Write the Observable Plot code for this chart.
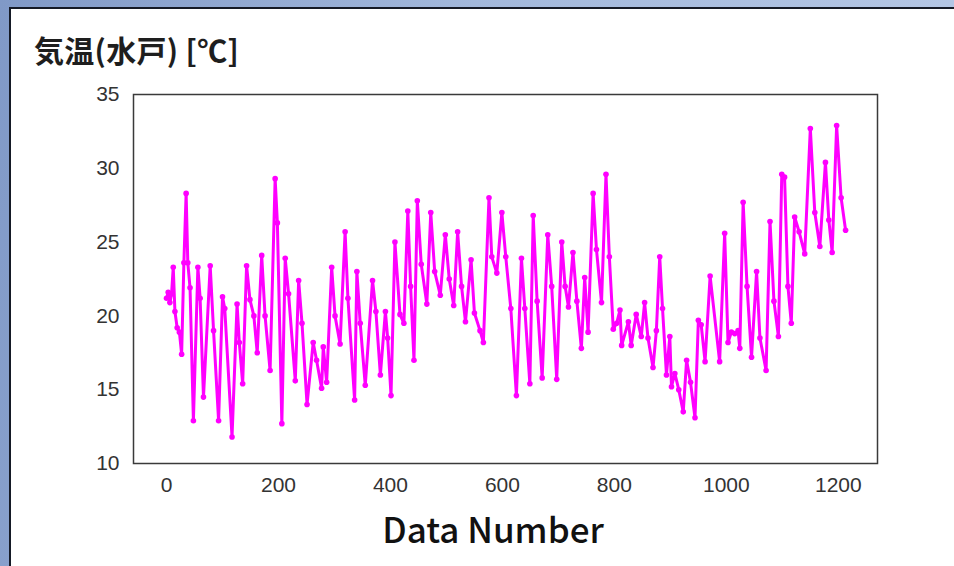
<!DOCTYPE html>
<html>
<head>
<meta charset="utf-8">
<script src="https://cdn.jsdelivr.net/npm/d3@7"></script>
<script src="https://cdn.jsdelivr.net/npm/@observablehq/plot@0.6"></script>
<style>
  html, body { margin: 0; padding: 0; width: 954px; height: 566px; overflow: hidden; }
  body {
    position: relative;
    background: linear-gradient(100deg, #8099c7 0%, #a2b8dc 45%, #b7c9e7 100%);
    font-family: "Noto Sans CJK JP", "Noto Sans", sans-serif;
  }
  #panel {
    position: absolute; left: 9px; top: 7px; right: 0; bottom: 0;
    background: #fff;
    border-left: 2px solid #151a26; border-top: 2px solid #151a26;
  }
  #title {
    position: absolute; left: 34px; top: 31px;
    font-size: 30px; font-weight: 700; color: #1e1e1e; line-height: 1.2;
    white-space: nowrap; letter-spacing: 0.3px;
  }
  #xlabel {
    position: absolute; left: 293px; width: 400px; top: 507px;
    text-align: center; font-size: 35px; font-weight: 500; color: #111;
    line-height: 1.2;
  }
  #chart { position: absolute; left: 0; top: 0; }
</style>
</head>
<body>
<div id="panel"></div>
<div id="chart"></div>
<div id="title">気温(水戸) [℃]</div>
<div id="xlabel">Data Number</div>
<script>
// Hourly air temperature at Mito: sample number and temperature (°C)
const dataNumber = [
  0, 3, 6, 9, 12, 15, 19, 23, 27, 31, 35, 38, 42, 48, 56, 60, 66, 78, 84, 93,
  100, 104, 117, 126, 130, 136, 143, 149, 156, 162, 170, 176, 185, 194, 198, 206, 212, 218, 230, 236,
  242, 251, 262, 268, 277, 280, 286, 295, 301, 310, 319, 324, 336, 340, 346, 355, 368, 374, 382, 391,
  395, 401, 408, 417, 424, 431, 436, 442, 448, 455, 465, 472, 479, 489, 498, 505, 513, 520, 527, 534,
  544, 550, 560, 566, 576, 581, 590, 599, 606, 615, 625, 634, 640, 649, 655, 662, 671, 681, 688, 697,
  706, 712, 718, 726, 733, 741, 747, 753, 762, 768, 777, 785, 791, 798, 804, 810, 813, 825, 830, 839,
  848, 854, 860, 869, 875, 881, 886, 893, 899, 902, 908, 915, 923, 929, 936, 944, 950, 955, 962, 971,
  988, 997, 1003, 1009, 1015, 1021, 1024, 1030, 1037, 1045, 1054, 1060, 1071, 1078, 1085, 1093, 1099, 1104, 1110, 1116,
  1122, 1130, 1140, 1150, 1158, 1167, 1177, 1183, 1189, 1197, 1205, 1213
];
const temperature = [
  21.2, 21.6, 20.9, 21.5, 23.3, 20.3, 19.2, 18.9, 17.4, 23.6, 28.3, 23.6, 21.9, 12.9, 23.3, 21.2, 14.5, 23.4, 19.0, 12.9,
  21.3, 20.5, 11.8, 20.8, 18.2, 15.4, 23.4, 21.1, 20.0, 17.5, 24.1, 20.0, 16.3, 29.3, 26.3, 12.7, 23.9, 21.5, 15.6, 22.4,
  19.5, 14.0, 18.2, 17.0, 15.1, 17.9, 15.5, 23.3, 20.0, 18.1, 25.7, 21.2, 14.3, 23.0, 19.5, 15.3, 22.4, 20.3, 16.0, 20.3,
  18.5, 14.6, 25.0, 20.1, 19.5, 27.1, 22.0, 17.0, 27.8, 23.5, 20.8, 27.0, 23.0, 21.4, 25.5, 22.5, 20.7, 25.7, 22.0, 19.6,
  23.8, 20.2, 19.0, 18.2, 28.0, 24.0, 22.9, 27.0, 24.0, 20.5, 14.6, 23.9, 20.5, 15.4, 26.8, 21.0, 15.8, 25.5, 22.0, 15.7,
  25.0, 22.0, 20.6, 24.3, 21.0, 17.8, 22.6, 18.9, 28.3, 24.5, 20.9, 29.6, 24.0, 19.1, 19.5, 20.4, 18.0, 19.6, 18.0, 20.1,
  18.6, 20.9, 18.5, 16.5, 19.0, 24.0, 20.5, 16.0, 18.6, 15.2, 16.1, 15.0, 13.5, 17.0, 15.5, 13.1, 19.7, 19.4, 16.9, 22.7,
  16.9, 25.6, 18.2, 18.9, 18.8, 19.0, 17.8, 27.7, 22.0, 17.2, 23.0, 18.5, 16.3, 26.4, 21.0, 18.6, 29.6, 29.4, 22.0, 19.5,
  26.7, 25.7, 24.2, 32.7, 27.0, 24.7, 30.4, 26.5, 24.3, 32.9, 28.0, 25.8
];
const yTicks = [10, 15, 20, 25, 30, 35];
const xTicks = [0, 200, 400, 600, 800, 1000, 1200];

const rows = dataNumber.map((n, i) => ({n, t: temperature[i]}));

const chart = Plot.plot({
  width: 954,
  height: 566,
  marginLeft: 133,
  marginRight: 77,
  marginTop: 94,
  marginBottom: 103,
  style: {background: "transparent", fontFamily: "'Liberation Sans', Arial, sans-serif", fontSize: "21px", color: "#333"},
  x: {domain: [-59, 1270]},
  y: {domain: [10, 35]},
  marks: [
    Plot.frame({fill: "#fff", stroke: "none"}),
    Plot.axisY({ticks: yTicks, tickSize: 0, tickPadding: 14, label: null, fontSize: 21}),
    Plot.axisX({ticks: xTicks, tickFormat: d => String(d), tickSize: 0, tickPadding: 14, label: null, fontSize: 21}),
    Plot.line(rows, {x: "n", y: "t", stroke: "#ff00ff", strokeWidth: 3}),
    Plot.dot(rows, {x: "n", y: "t", r: 2.8, fill: "#ff00ff", stroke: "none"}),
    Plot.frame({stroke: "#3a3a3a", strokeWidth: 1.5})
  ]
});
document.getElementById("chart").appendChild(chart);
</script>
</body>
</html>
